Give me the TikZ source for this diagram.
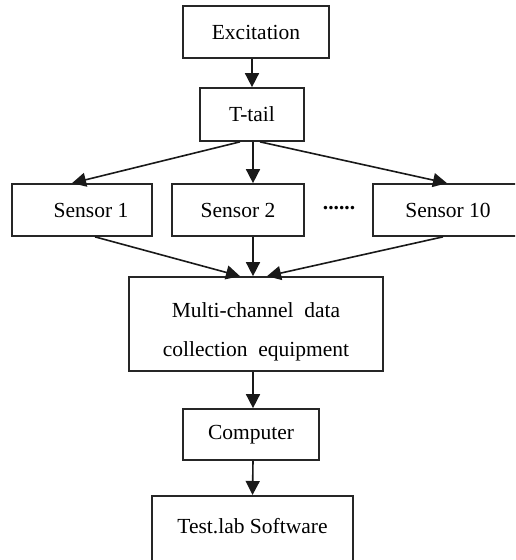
\documentclass[tikz,border=0pt]{standalone}
\usepackage{fontspec}
\setmainfont{Liberation Serif}
\usetikzlibrary{arrows.meta}
\begin{document}
\begin{tikzpicture}[x=1pt,y=-1pt,
  box/.style={draw=black!85, line width=1.7pt, inner sep=0pt, font=\fontsize{21.5}{39}\selectfont},
  arr/.style={draw=black!90, line width=1.6pt, -{Triangle[length=14pt,width=14pt]}}]
\clip (0,0) rectangle (515,560);
\fill[white] (0,0) rectangle (515,560);
\node[box, minimum width=146pt, minimum height=52pt] (exc) at (256,32) {Excitation};
\node[box, minimum width=104pt, minimum height=53pt] (tt) at (252,114.5) {T-tail};
\node[box, minimum width=140pt, minimum height=52pt] (s1) at (82,210) {\hspace*{18pt}Sensor 1};
\node[box, minimum width=132pt, minimum height=52pt] (s2) at (238,210) {Sensor 2};
\node[box, minimum width=150pt, minimum height=52pt] (s10) at (448,210) {Sensor 10};
\node[font=\bfseries\fontsize{21.5}{26}\selectfont] (dots) at (339,208) {......};
\node[box, minimum width=254pt, minimum height=94pt, align=center] (mc) at (256,324) {\rule{0pt}{31pt}Multi-channel\ \ data\\collection\ \ equipment};
\node[box, minimum width=136pt, minimum height=51pt] (cmp) at (251,434.5) {Computer};
\node[box, minimum width=201pt, minimum height=75pt, anchor=north] (tl) at (252.5,495) {\raisebox{15pt}{Test.lab Software}};
\draw[arr] (exc.south -| tt.south) -- (tt.north);
\draw[arr] ([xshift=-12pt]tt.south) -- ([xshift=-10pt]s1.north);
\draw[arr] ([xshift=1pt]tt.south) -- ([xshift=15pt]s2.north);
\draw[arr] ([xshift=8pt]tt.south) -- ([xshift=-1pt]s10.north);
\draw[arr] ([xshift=13pt]s1.south) -- ([xshift=-16pt]mc.north);
\draw[arr] ([xshift=15pt]s2.south) -- ([xshift=-3pt]mc.north);
\draw[arr] ([xshift=-5pt]s10.south) -- ([xshift=11pt]mc.north);
\draw[arr] ([xshift=-3pt]mc.south) -- ([xshift=2pt]cmp.north);
\draw[arr] ([xshift=2pt]cmp.south) -- ([xshift=0pt]tl.north);
\end{tikzpicture}
\end{document}
